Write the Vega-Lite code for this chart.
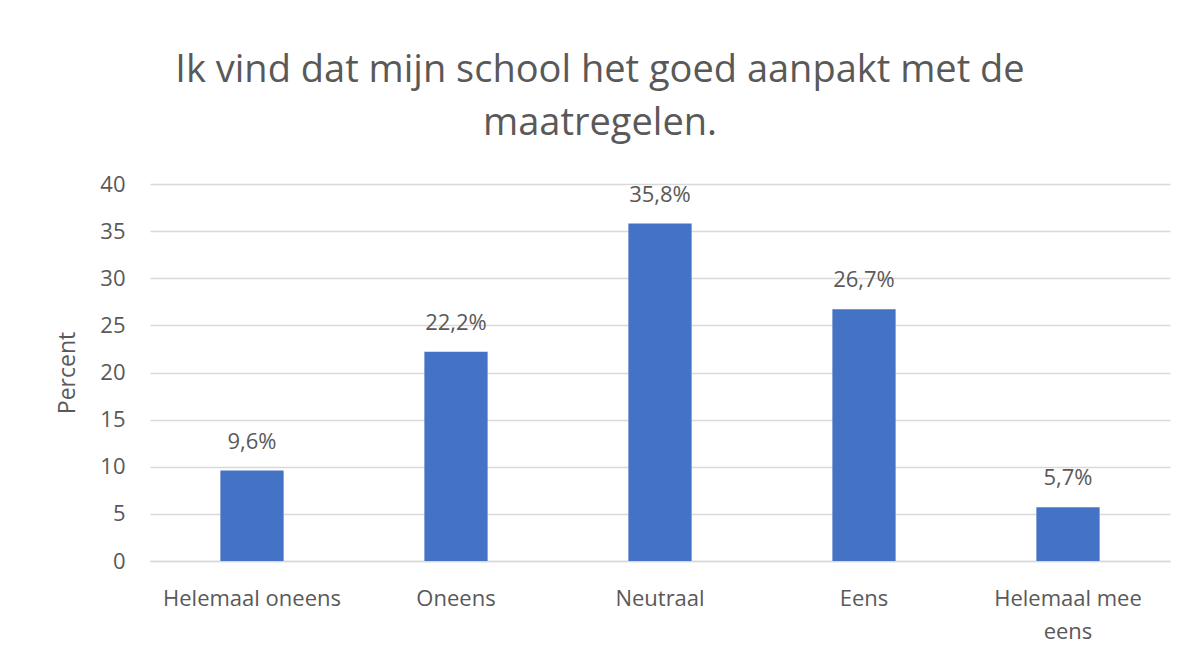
{
  "$schema": "https://vega.github.io/schema/vega-lite/v6.json",
  "autosize": {"type": "none"},
  "width": 1020,
  "height": 377,
  "padding": {"left": 150, "top": 184, "right": 27, "bottom": 106},
  "background": "white",
  "title": {
    "text": ["Ik vind dat mijn school het goed aanpakt met de", "maatregelen."],
    "anchor": "middle",
    "frame": "group",
    "dx": -60,
    "offset": 30,
    "lineHeight": 53,
    "font": "Open Sans",
    "fontSize": 38,
    "fontWeight": "normal",
    "color": "#595959"
  },
  "data": {
    "values": [
      {"category": "Helemaal oneens", "percent": 9.6, "label": "9,6%"},
      {"category": "Oneens", "percent": 22.2, "label": "22,2%"},
      {"category": "Neutraal", "percent": 35.8, "label": "35,8%"},
      {"category": "Eens", "percent": 26.7, "label": "26,7%"},
      {"category": "Helemaal mee eens", "percent": 5.7, "label": "5,7%"}
    ]
  },
  "encoding": {
    "x": {
      "field": "category",
      "type": "nominal",
      "sort": null,
      "scale": {"paddingInner": 0.69, "paddingOuter": 0.345},
      "axis": {
        "title": null,
        "labelAngle": 0,
        "labelFont": "Open Sans",
        "labelFontSize": 22,
        "labelColor": "#595959",
        "labelPadding": 27,
        "labelLineHeight": 33,
        "labelExpr": "datum.label == 'Helemaal mee eens' ? ['Helemaal mee', 'eens'] : datum.label",
        "ticks": false,
        "domainColor": "#d9d9d9",
        "domainWidth": 1.5
      }
    },
    "y": {
      "field": "percent",
      "type": "quantitative",
      "scale": {"domain": [0, 40]},
      "axis": {
        "title": "Percent",
        "titleFont": "Open Sans",
        "titleFontSize": 23,
        "titleFontWeight": "normal",
        "titleColor": "#595959",
        "titlePadding": 20,
        "values": [0, 5, 10, 15, 20, 25, 30, 35, 40],
        "labelFont": "Open Sans",
        "labelFontSize": 22,
        "labelColor": "#595959",
        "labelPadding": 25,
        "ticks": false,
        "domain": false,
        "gridColor": "#d9d9d9",
        "gridWidth": 1.5
      }
    }
  },
  "layer": [
    {"mark": {"type": "bar", "color": "#4472C4"}},
    {
      "mark": {
        "type": "text",
        "baseline": "alphabetic",
        "dy": -22,
        "font": "Open Sans",
        "fontSize": 22,
        "color": "#595959"
      },
      "encoding": {"text": {"field": "label"}}
    }
  ],
  "config": {"view": {"stroke": null}}
}
